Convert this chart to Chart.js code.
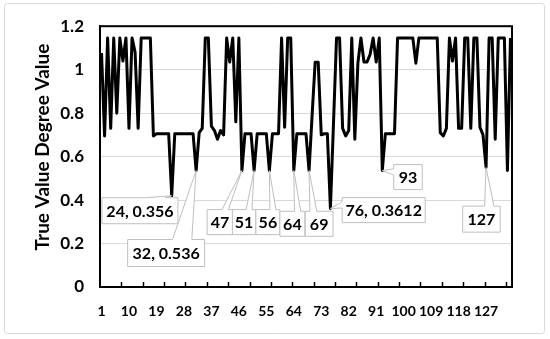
<!DOCTYPE html>
<html>
<head>
<meta charset="utf-8">
<script src="https://cdn.jsdelivr.net/npm/chart.js@4.4.0/dist/chart.umd.min.js"></script>
<style>
  html, body { margin: 0; padding: 0; background: #fff; }
</style>
</head>
<body>
<canvas id="line-chart" width="550" height="339"></canvas>
<script>
// one value per sample, sample numbers run 1..135
let trueValues = [
  1.077, 0.695, 1.146, 0.73, 1.146, 0.80, 1.146, 1.04, 1.146, 0.73,
  1.146, 1.08, 0.73, 1.146, 1.146, 1.146, 1.146, 0.695, 0.705, 0.705,
  0.705, 0.705, 0.705, 0.42, 0.705, 0.705, 0.705, 0.705, 0.705, 0.705,
  0.705, 0.536, 0.71, 0.73, 1.146, 1.146, 0.74, 0.72, 0.68, 0.72,
  0.70, 1.146, 1.035, 1.146, 0.76, 1.146, 0.536, 0.705, 0.705, 0.705,
  0.536, 0.705, 0.705, 0.705, 0.705, 0.536, 0.705, 0.705, 0.705, 1.146,
  0.735, 1.146, 1.146, 0.536, 0.705, 0.705, 0.705, 0.705, 0.536, 0.79,
  1.034, 1.034, 0.70, 0.705, 0.705, 0.3612, 0.75, 1.146, 1.146, 0.73,
  0.695, 0.72, 1.146, 0.68, 1.03, 1.146, 1.035, 1.035, 1.07, 1.146,
  1.035, 1.146, 0.536, 0.705, 0.705, 0.705, 0.705, 1.146, 1.146, 1.146,
  1.146, 1.146, 1.146, 1.03, 1.146, 1.146, 1.146, 1.146, 1.146, 1.146,
  1.146, 0.71, 0.695, 0.73, 1.146, 1.04, 1.146, 0.73, 0.73, 1.146,
  1.146, 0.73, 1.146, 1.146, 0.735, 0.70, 0.55, 1.146, 1.146, 0.68,
  1.146, 1.146, 1.146, 0.536, 1.146
];
let sampleNos = trueValues.map((v, i) => i + 1);

let xTickLabels = [1, 10, 19, 28, 37, 46, 55, 64, 73, 82, 91, 100, 109, 118, 127];
let yTickLabels = [0, 0.2, 0.4, 0.6, 0.8, 1, 1.2];

// callouts: which sample, and what the box says
let calloutSamples = [24, 32, 47, 51, 56, 64, 69, 76, 93, 127];
let calloutTexts = ['24, 0.356', '32, 0.536', '47', '51', '56', '64', '69', '76, 0.3612', '93', '127'];

// box centre offset from the point, box width, box height (layout only)
let calloutBoxes = [
  [-31.8, 15, 76, 26],
  [-30, 82.5, 77, 27],
  [-22, 51.6, 25.5, 25],
  [-10, 51.6, 23.5, 25],
  [-1.5, 51.6, 24, 25],
  [-1.4, 53.3, 25, 25],
  [10.1, 53.3, 27.7, 25],
  [53.3, 1.6, 83, 25],
  [25.7, 6.6, 28.5, 25],
  [-4.6, 51.7, 37.5, 26]
];

const FONT = 'Lato, "Open Sans", sans-serif';

// excel style wedgeRectCallout outline
const calloutPath = (ctx, l, t, w, h, tx, ty) => {
  let r = l + w, b = t + h, hc = l + w / 2, vc = t + h / 2;
  let dxPos = tx - hc, dyPos = ty - vc;
  let dq = dxPos * h / w;
  let dz = Math.abs(dyPos) - Math.abs(dq);
  let x1 = l + w * (dxPos > 0 ? 7 : 2) / 12, x2 = l + w * (dxPos > 0 ? 10 : 5) / 12;
  let y1 = t + h * (dyPos > 0 ? 7 : 2) / 12, y2 = t + h * (dyPos > 0 ? 10 : 5) / 12;
  ctx.beginPath();
  ctx.moveTo(l, t);
  if (dz > 0 && dyPos < 0) { ctx.lineTo(x1, t); ctx.lineTo(tx, ty); ctx.lineTo(x2, t); }
  ctx.lineTo(r, t);
  if (dz <= 0 && dxPos > 0) { ctx.lineTo(r, y1); ctx.lineTo(tx, ty); ctx.lineTo(r, y2); }
  ctx.lineTo(r, b);
  if (dz > 0 && dyPos > 0) { ctx.lineTo(x2, b); ctx.lineTo(tx, ty); ctx.lineTo(x1, b); }
  ctx.lineTo(l, b);
  if (dz <= 0 && dxPos < 0) { ctx.lineTo(l, y2); ctx.lineTo(tx, ty); ctx.lineTo(l, y1); }
  ctx.closePath();
};

const decorations = {
  id: 'decorations',
  beforeDraw: (chart) => {
    let ctx = chart.ctx;
    ctx.save();
    ctx.fillStyle = '#fff';
    ctx.fillRect(0, 0, chart.width, chart.height);
    ctx.strokeStyle = '#d9d9d9';
    ctx.lineWidth = 1;
    ctx.beginPath();
    ctx.roundRect(4.5, 3.5, 540, 330, 3);
    ctx.stroke();
    // y axis title
    ctx.translate(43, 147);
    ctx.rotate(-Math.PI / 2);
    ctx.fillStyle = '#000';
    ctx.font = 'bold 19px ' + FONT;
    ctx.textAlign = 'center';
    ctx.textBaseline = 'middle';
    ctx.fillText('True Value Degree Value', 0, 0);
    ctx.restore();
  },
  afterDatasetsDraw: (chart) => {
    let ctx = chart.ctx;
    let area = chart.chartArea;
    let xs = chart.scales.x;
    ctx.save();
    // plot frame
    ctx.strokeStyle = '#000';
    ctx.lineWidth = 2;
    ctx.strokeRect(area.left, area.top, area.right - area.left, area.bottom - area.top);
    // tick marks every 7 samples, pointing in
    ctx.lineWidth = 1.5;
    for (let k = 1; k <= 19; k++) {
      let x = Math.round(xs.getPixelForValue(0.5 + 7 * k)) + 0.5;
      ctx.beginPath();
      ctx.moveTo(x, area.bottom);
      ctx.lineTo(x, area.bottom - 5);
      ctx.stroke();
    }
    // callouts
    let meta = chart.getDatasetMeta(0);
    ctx.font = 'bold 16px ' + FONT;
    ctx.textAlign = 'center';
    ctx.textBaseline = 'middle';
    calloutSamples.forEach((s, j) => {
      let pt = meta.data[s - 1];
      let [dx, dy, w, h] = calloutBoxes[j];
      let cx = pt.x + dx, cy = pt.y + dy;
      calloutPath(ctx, cx - w / 2, cy - h / 2, w, h, pt.x, pt.y);
      ctx.fillStyle = '#fff';
      ctx.fill();
      ctx.strokeStyle = '#bfbfbf';
      ctx.lineWidth = 1;
      ctx.stroke();
      ctx.fillStyle = '#000';
      ctx.fillText(calloutTexts[j], cx, cy + 1);
    });
    ctx.restore();
  }
};

let renderChart = () => {
  let lineChart = document.getElementById('line-chart');
  new Chart(lineChart, {
    type: 'line',
    data: {
      datasets: [
        {
          label: 'True Value Degree Value',
          data: sampleNos.map((n, i) => ({ x: n, y: trueValues[i] })),
          borderColor: '#000',
          borderWidth: 3,
          borderJoinStyle: 'round',
          pointRadius: 0,
          tension: 0,
          fill: false,
        },
      ],
    },
    options: {
      responsive: false,
      animation: false,
      devicePixelRatio: 1,
      layout: { padding: { left: 0, right: 38, top: 23, bottom: 0 } },
      plugins: { legend: { display: false }, tooltip: { enabled: false } },
      scales: {
        x: {
          type: 'linear',
          min: 0.5,
          max: 135.5,
          afterBuildTicks: (scale) => {
            scale.ticks = xTickLabels.map((v) => ({ value: v }));
          },
          afterFit: (scale) => { scale.height = 339 - 287; },
          grid: { display: false },
          border: { display: true, color: '#000', width: 2 },
          ticks: {
            autoSkip: false,
            maxRotation: 0,
            padding: 8,
            color: '#000',
            font: { family: FONT, size: 14, weight: 'bold' },
          },
        },
        y: {
          min: 0,
          max: 1.2,
          afterBuildTicks: (scale) => {
            scale.ticks = yTickLabels.map((v) => ({ value: v }));
          },
          afterFit: (scale) => { scale.width = 100; },
          grid: { color: '#d9d9d9', lineWidth: 1, drawTicks: false },
          border: { display: true, color: '#000', width: 2 },
          ticks: {
            padding: 16,
            color: '#000',
            font: { family: FONT, size: 17, weight: 'bold' },
            callback: (v) => String(+v.toFixed(1)),
          },
        },
      },
    },
    plugins: [decorations],
  });
};
renderChart();
</script>
</body>
</html>
